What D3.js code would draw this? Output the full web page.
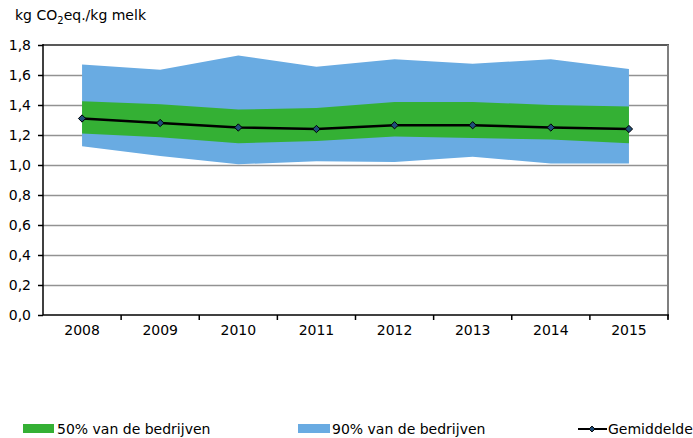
<!DOCTYPE html>
<html>
<head>
<meta charset="utf-8">
<script src="https://cdn.jsdelivr.net/npm/d3@7"></script>
<style>
  body { margin: 0; background: #fff; }
  svg text { font-family: "DejaVu Sans", Verdana, sans-serif; fill: #000; }
</style>
</head>
<body>
<div id="chart"></div>
<script>
// data
var years = ['2008', '2009', '2010', '2011', '2012', '2013', '2014', '2015']
var mean = [1.31, 1.28, 1.25, 1.24, 1.265, 1.265, 1.25, 1.24]
var p25 = [1.21, 1.185, 1.145, 1.16, 1.19, 1.18, 1.17, 1.145]
var p75 = [1.425, 1.405, 1.37, 1.38, 1.42, 1.42, 1.40, 1.39]
var p05 = [1.125, 1.06, 1.005, 1.025, 1.02, 1.055, 1.01, 1.01]
var p95 = [1.67, 1.635, 1.73, 1.655, 1.705, 1.675, 1.705, 1.64]
var yTicks = [0, 0.2, 0.4, 0.6, 0.8, 1.0, 1.2, 1.4, 1.6, 1.8]

var W = 693, H = 438
var mLeft = 43, mRight = 668, mTop = 45, mBottom = 315

var svg = d3.select('#chart').append('svg')
  .attr('width', W).attr('height', H)

var x = d3.scaleBand().domain(years).range([mLeft, mRight])
var y = d3.scaleLinear().domain([0, 1.8]).range([mBottom, mTop])
var cx = function(d){ return x(d) + x.bandwidth() / 2 }
var fmt = function(v){ return d3.format('.1f')(v).replace('.', ',') }

// gridlines
svg.append('g').selectAll('line')
  .data(yTicks.filter(function(v){ return v > 0 && v < 1.8 }))
  .join('line')
  .attr('x1', mLeft).attr('x2', mRight)
  .attr('y1', function(d){ return y(d) + 0.5 }).attr('y2', function(d){ return y(d) + 0.5 })
  .style('stroke', '#929292').style('stroke-width', 1.5)

// bands
var idx = d3.range(years.length)
var area = function(lo, hi){
  return d3.area()
    .x(function(i){ return cx(years[i]) })
    .y0(function(i){ return y(lo[i]) })
    .y1(function(i){ return y(hi[i]) })(idx)
}
svg.append('path').attr('d', area(p05, p95)).style('fill', '#69abe2')
svg.append('path').attr('d', area(p25, p75)).style('fill', '#34b034')

// mean line
svg.append('path')
  .attr('d', d3.line().x(function(i){ return cx(years[i]) }).y(function(i){ return y(mean[i]) })(idx))
  .style('fill', 'none').style('stroke', '#000').style('stroke-width', 2.5)
svg.append('g').selectAll('path')
  .data(idx).join('path')
  .attr('d', d3.symbol(d3.symbolDiamond2, 34)())
  .attr('transform', function(i){ return 'translate(' + cx(years[i]) + ',' + y(mean[i]) + ')' })
  .style('fill', '#1f4e79').style('stroke', '#000').style('stroke-width', 1)

// frame: top and right
svg.append('line').attr('x1', mLeft).attr('x2', mRight + 1).attr('y1', mTop).attr('y2', mTop)
  .style('stroke', '#595959').style('stroke-width', 2)
svg.append('line').attr('x1', mRight).attr('x2', mRight).attr('y1', mTop).attr('y2', mBottom + 4)
  .style('stroke', '#7f7f7f').style('stroke-width', 2)

// y axis
var yAxis = svg.append('g').attr('transform', 'translate(' + mLeft + ',0)')
  .call(d3.axisLeft(y).tickValues(yTicks).tickFormat(fmt).tickSize(5).tickPadding(7))
yAxis.select('.domain').attr('d', 'M0,' + (mTop - 1) + 'V' + mBottom).style('stroke', '#000').style('stroke-width', 1.5)
yAxis.selectAll('.tick line').style('stroke-width', 1.5)
yAxis.selectAll('text').style('font-size', '14px')

// x axis
var xAxis = svg.append('g').attr('transform', 'translate(0,' + mBottom + ')')
  .call(d3.axisBottom(x).tickSize(0).tickPadding(10))
xAxis.select('.domain').attr('d', 'M' + mLeft + ',0H' + (mRight + 1)).style('stroke', '#000').style('stroke-width', 1.5)
xAxis.selectAll('text').style('font-size', '14px')
xAxis.append('g').selectAll('line')
  .data(years.slice(1).concat(['end']))
  .join('line')
  .attr('x1', function(d){ return d == 'end' ? mRight : x(d) })
  .attr('x2', function(d){ return d == 'end' ? mRight : x(d) })
  .attr('y1', 0).attr('y2', 5)
  .style('stroke', '#000').style('stroke-width', 1.5)

// title
var title = svg.append('text').attr('x', 15).attr('y', 20).style('font-size', '14px')
title.append('tspan').text('kg CO')
title.append('tspan').text('2').attr('dy', 4).style('font-size', '10px')
title.append('tspan').text('eq./kg melk').attr('dy', -4)

// legend
var lg = svg.append('g').style('font-size', '14px')
lg.append('rect').attr('x', 23).attr('y', 424).attr('width', 31).attr('height', 9).style('fill', '#34b034')
lg.append('text').attr('x', 57).attr('y', 434).text('50% van de bedrijven')
lg.append('rect').attr('x', 298).attr('y', 424).attr('width', 32).attr('height', 9).style('fill', '#69abe2')
lg.append('text').attr('x', 332).attr('y', 434).text('90% van de bedrijven')
lg.append('line').attr('x1', 578).attr('x2', 607).attr('y1', 429).attr('y2', 429)
  .style('stroke', '#000').style('stroke-width', 2)
lg.append('path').attr('d', d3.symbol(d3.symbolDiamond2, 22)())
  .attr('transform', 'translate(592,429)')
  .style('fill', '#1f4e79').style('stroke', '#000')
lg.append('text').attr('x', 608).attr('y', 434).text('Gemiddelde')
</script>
</body>
</html>
